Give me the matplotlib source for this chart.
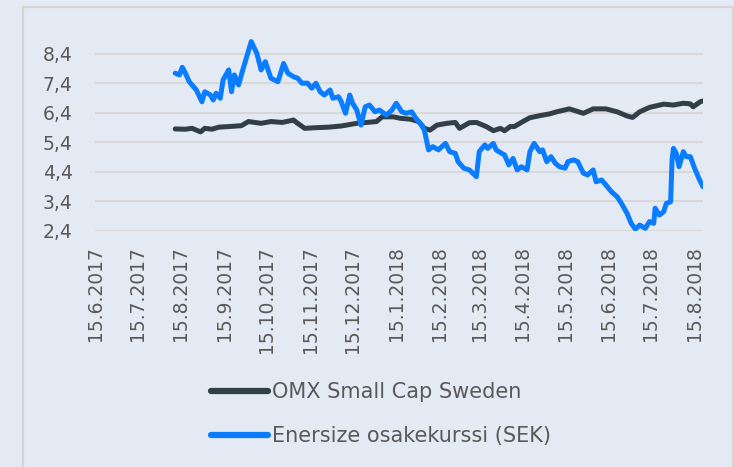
import pandas as pd
import matplotlib.pyplot as plt
from matplotlib.patches import Rectangle

# ---- data (days since 15.6.2017, price) ----
start = pd.Timestamp("2017-06-15")

omx_days = [57, 64, 69, 75, 78, 83, 88, 95, 104, 109,
            118, 125, 133, 141, 144, 149, 156, 166, 175, 186,
            200, 204, 212, 217, 224, 230, 234, 238, 243, 250,
            256, 259, 266, 271, 278, 283, 288, 291, 295, 298,
            304, 309, 316, 323, 328, 337, 347, 354, 363, 371,
            378, 382, 387, 394, 404, 411, 418, 423, 425, 430,
            432]
omx_vals = [5.86, 5.85, 5.88, 5.76, 5.88, 5.85, 5.92, 5.94, 5.97, 6.11,
            6.05, 6.11, 6.08, 6.16, 6.05, 5.88, 5.90, 5.92, 5.96, 6.05,
            6.11, 6.27, 6.27, 6.22, 6.19, 6.11, 5.88, 5.82, 5.99, 6.05,
            6.08, 5.88, 6.07, 6.08, 5.94, 5.80, 5.88, 5.80, 5.94, 5.94,
            6.11, 6.24, 6.31, 6.37, 6.44, 6.54, 6.39, 6.54, 6.54, 6.44,
            6.30, 6.25, 6.44, 6.59, 6.70, 6.67, 6.73, 6.71, 6.61, 6.78,
            6.81]

ens_days = [57, 60, 62, 64, 67, 72, 76, 78, 82, 84,
            86, 89, 91, 95, 97, 99, 102, 105, 111, 115,
            118, 121, 125, 130, 134, 137, 141, 144, 147, 151,
            154, 157, 160, 163, 167, 169, 173, 175, 178, 181,
            183, 186, 189, 192, 195, 199, 202, 207, 211, 214,
            218, 221, 225, 228, 232, 234, 237, 240, 244, 249,
            252, 256, 258, 262, 266, 271, 273, 277, 279, 283,
            285, 289, 291, 294, 297, 300, 303, 307, 309, 312,
            316, 318, 321, 324, 327, 330, 334, 336, 340, 343,
            347, 350, 354, 356, 360, 363, 367, 371, 374, 378,
            381, 384, 387, 391, 394, 397, 398, 401, 404, 406,
            409, 410, 411, 413, 415, 418, 420, 423, 426, 429,
            432]
ens_vals = [7.75, 7.69, 7.95, 7.77, 7.46, 7.18, 6.78, 7.12, 7.01, 6.84,
            7.07, 6.90, 7.52, 7.86, 7.12, 7.69, 7.35, 7.86, 8.82, 8.42,
            7.86, 8.14, 7.58, 7.46, 8.08, 7.75, 7.63, 7.58, 7.41, 7.41,
            7.24, 7.41, 7.12, 7.01, 7.18, 6.90, 6.95, 6.78, 6.39, 7.01,
            6.73, 6.50, 5.99, 6.61, 6.67, 6.44, 6.50, 6.33, 6.50, 6.73,
            6.44, 6.39, 6.44, 6.22, 5.99, 5.82, 5.15, 5.26, 5.15, 5.37,
            5.09, 5.03, 4.75, 4.53, 4.47, 4.24, 5.09, 5.32, 5.20, 5.37,
            5.15, 5.03, 4.98, 4.64, 4.86, 4.47, 4.58, 4.47, 5.09, 5.37,
            5.09, 5.15, 4.75, 4.92, 4.70, 4.58, 4.53, 4.75, 4.81, 4.75,
            4.36, 4.30, 4.47, 4.07, 4.13, 3.96, 3.73, 3.56, 3.34, 3.00,
            2.66, 2.46, 2.60, 2.49, 2.72, 2.66, 3.17, 2.94, 3.05, 3.34,
            3.39, 4.81, 5.20, 5.03, 4.58, 5.09, 4.92, 4.92, 4.53, 4.19,
            3.90]

y_ticks = [2.4, 3.4, 4.4, 5.4, 6.4, 7.4, 8.4]
tick_dates = pd.date_range("2017-06-01", "2018-08-01", freq="MS") + pd.Timedelta(days=14)

labels = ["OMX Small Cap Sweden", "Enersize osakekurssi (SEK)"]
colors = ["#333f48", "#0a7cff"]

bg = "#e4eaf4"
txt = "#595959"
plt.rcParams["font.family"] = ["DejaVu Sans"]

omx_t = start + pd.to_timedelta(omx_days, unit="D")
ens_t = start + pd.to_timedelta(ens_days, unit="D")

fig = plt.figure(figsize=(7.34, 4.67), dpi=100, facecolor=bg)
ax = fig.add_axes([95 / 734, 1 - 231 / 467, 608 / 734, (231 - 36.3) / 467])
ax.set_facecolor(bg)

ax.plot(omx_t, omx_vals, color=colors[0], lw=3.6, label=labels[0],
        solid_capstyle="round", solid_joinstyle="round")
ax.plot(ens_t, ens_vals, color=colors[1], lw=3.6, label=labels[1],
        solid_capstyle="round", solid_joinstyle="round")

ax.set_xlim(start, start + pd.Timedelta(days=432))
ax.set_ylim(2.4, 9.0)
ax.set_yticks(y_ticks)
ax.set_yticklabels([f"{v:.1f}".replace(".", ",") for v in y_ticks])
ax.set_xticks(tick_dates)
ax.set_xticklabels([f"{d.day}.{d.month}.{d.year}" for d in tick_dates], rotation=90)
ax.yaxis.grid(True, color="#d8d8d8", lw=1.5)
ax.set_axisbelow(True)
ax.tick_params(axis="both", length=0, labelsize=13.5, colors=txt)
ax.tick_params(axis="y", pad=16)
ax.tick_params(axis="x", pad=11)
for s in ax.spines.values():
    s.set_visible(False)

leg = ax.legend(loc="upper left", bbox_to_anchor=(211 / 734, 1 - 382 / 467),
                bbox_transform=fig.transFigure, frameon=False, fontsize=15,
                handlelength=2.74, handletextpad=0.19, labelspacing=1.16,
                borderpad=0, borderaxespad=0, labelcolor=txt)
for h in leg.get_lines():
    h.set_linewidth(4.5)
    h.set_solid_capstyle("round")

fig.add_artist(Rectangle((22.7 / 734, -0.02), (732.7 - 22.7) / 734, 1.02 - 7.3 / 467,
                         transform=fig.transFigure, fill=False,
                         ec="#d5d5d5", lw=1.6))

fig.savefig("out.png", dpi=100, facecolor=bg)
